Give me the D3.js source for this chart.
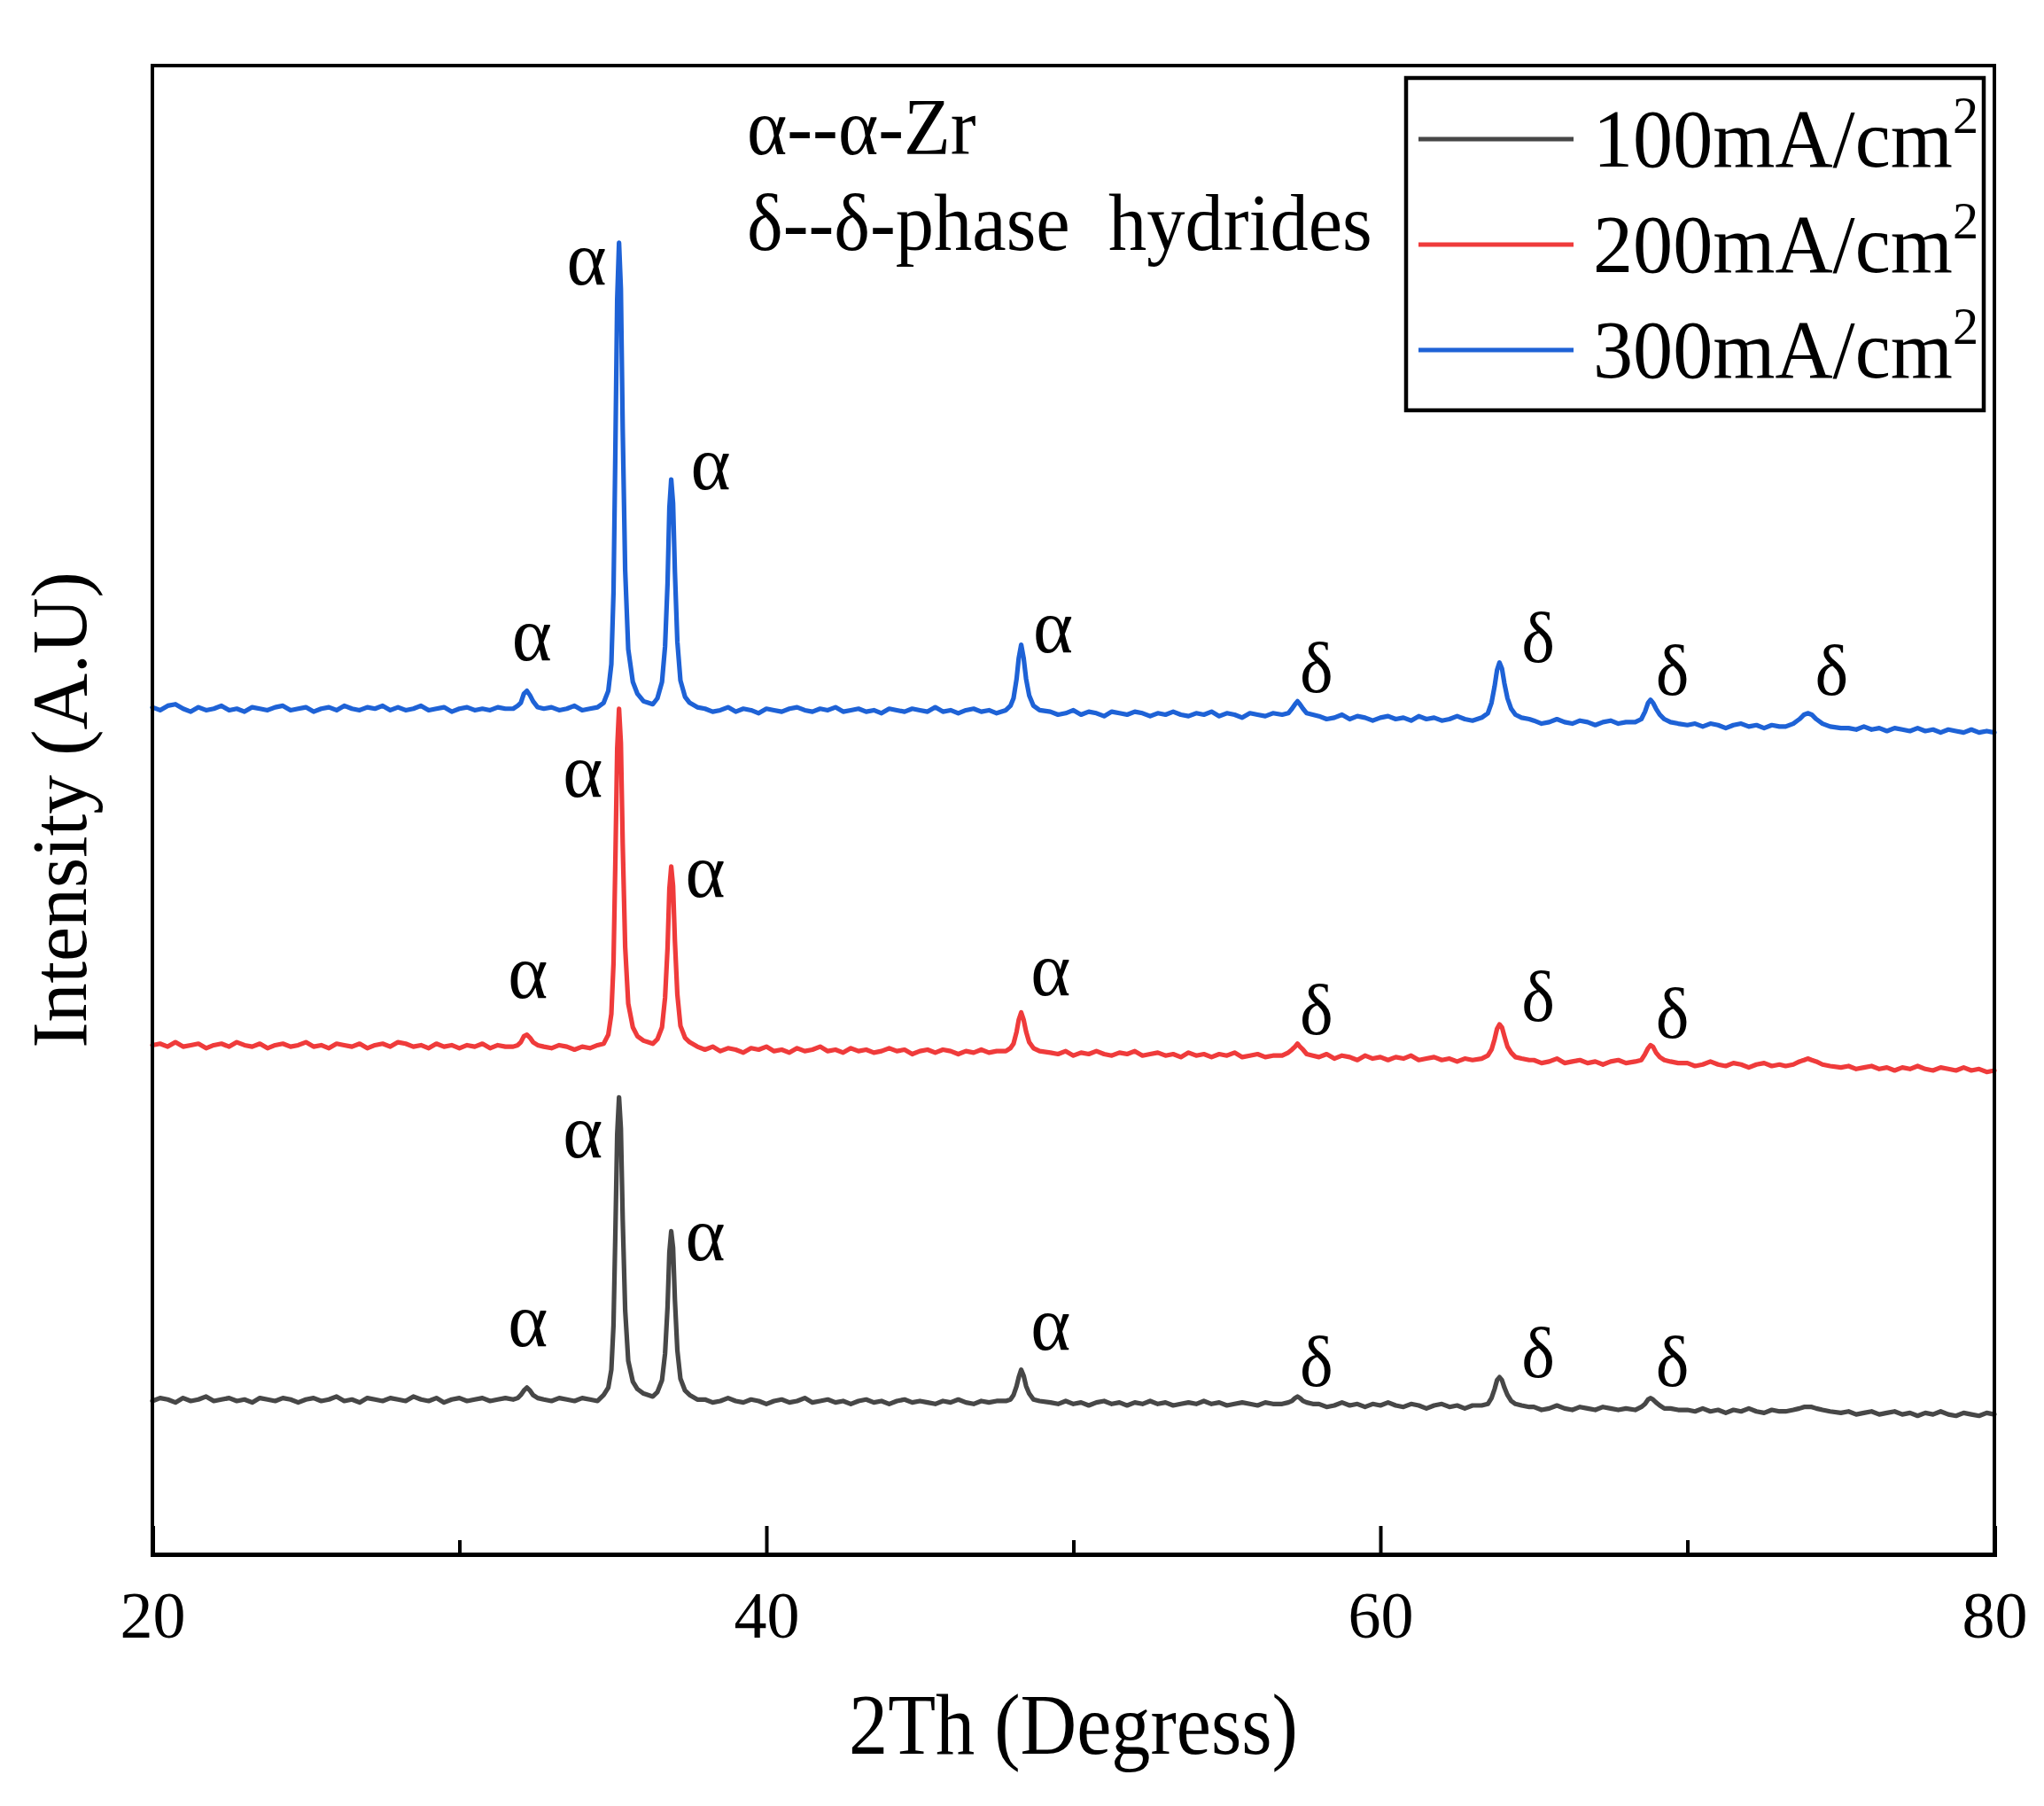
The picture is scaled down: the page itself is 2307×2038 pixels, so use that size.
<!DOCTYPE html>
<html><head><meta charset="utf-8">
<script src="https://cdn.jsdelivr.net/npm/d3@7"></script>
<style>
html,body{margin:0;padding:0;background:#fff;}
text{font-family:"Liberation Serif","Times New Roman",serif;fill:#000;}
</style>
</head><body>
<svg id="chart" width="2307" height="2038"></svg>
<script>
// ---------------- DATA ----------------
const twoTheta = [
 20,20.25,20.5,20.75,21,21.25,21.5,21.75,22,22.25,22.5,22.75,23,23.25,23.5,23.75,24,24.25,24.5,24.75,25,25.25,25.5,25.75,26,26.25,26.5,26.75,27,27.25,27.5,27.75,28,28.25,28.5,28.75,29,29.25,29.5,29.75,30,30.25,30.5,30.75,31,31.25,31.5,
 31.75,31.9,32.0,32.1,32.2,32.3,32.4,32.55,32.75,
 33,33.25,33.5,33.75,34,34.25,34.5,
 34.7,34.85,34.95,35.02,35.08,35.14,35.2,35.26,35.32,35.4,35.5,35.65,35.8,36.0,
 36.15,36.3,
 36.45,36.6,36.7,36.78,36.84,36.9,36.96,37.02,37.1,37.2,37.35,37.5,37.75,
 38,38.25,38.5,38.75,39,39.25,39.5,39.75,40,40.25,40.5,40.75,41,41.25,41.5,41.75,42,42.25,42.5,42.75,43,43.25,43.5,43.75,44,44.25,44.5,44.75,45,45.25,45.5,45.75,46,46.25,46.5,46.75,47,47.25,47.5,
 47.8,47.95,48.05,48.15,48.22,48.3,48.38,48.46,48.56,48.7,48.9,
 49.25,49.5,49.75,50,50.25,50.5,50.75,51,51.25,51.5,51.75,52,52.25,52.5,52.75,53,53.25,53.5,53.75,54,54.25,54.5,54.75,55,55.25,55.5,55.75,56,56.25,56.5,
 56.8,57.0,57.12,57.22,57.3,57.38,57.48,57.6,57.8,
 58,58.25,58.5,58.75,59,59.25,59.5,59.75,60,60.25,60.5,60.75,61,61.25,61.5,61.75,62,62.25,62.5,62.75,63,
 63.3,63.5,63.62,63.72,63.8,63.88,63.96,64.04,64.14,64.26,64.4,64.6,64.85,
 65,65.25,65.5,65.75,66,66.25,66.5,66.75,67,67.25,67.5,67.75,68,
 68.3,68.5,68.62,68.72,68.8,68.88,68.98,69.1,69.25,69.45,69.7,
 70,70.25,70.5,70.75,71,71.25,71.5,71.75,72,72.25,72.5,72.75,73,
 73.2,73.45,73.65,73.8,73.92,74.05,74.2,74.4,74.65,75.0,
 75.25,75.5,75.75,76,76.25,76.5,76.75,77,77.25,77.5,77.75,78,78.25,78.5,78.75,79,79.25,79.5,79.75,80
];

// intensities (a.u.) above each pattern's own stacking offset
const i100 = [
 -1,1,0,-2,1,-1,0,2,-1,0,1,-1,0,-2,1,0,-1,1,0,-2,0,1,-1,0,2,-1,0,-2,1,0,-1,1,0,-1,2,0,-1,1,-2,0,1,-1,0,1,-1,0,1,
 0,1,3,6,8,6,3,1,0,
 -1,1,0,-1,1,0,-1,
 3,8,20,50,111,178,203,182,121,60,26,12,7,4,
 3,2,
 5,13,31,62,99,113,102,67,33,14,6,3,0,
 0,-2,-1,1,-1,-2,0,-1,-3,-1,0,-2,-1,1,-2,-1,0,-2,-1,-3,-1,0,-2,-1,-3,-1,0,-2,-1,-2,-3,-1,-2,0,-2,-3,-1,-2,-1,
 -1,0,3,9,15,20,16,9,4,0,-1,
 -2,-3,-1,-3,-2,-4,-2,-1,-3,-2,-4,-2,-3,-1,-3,-2,-4,-3,-2,-3,-1,-3,-2,-4,-3,-2,-3,-4,-2,-3,
 -3,-2,-1,1,2,1,-1,-2,-3,
 -3,-5,-4,-2,-4,-3,-5,-3,-4,-2,-4,-5,-3,-4,-6,-4,-3,-5,-4,-6,-4,
 -4,-3,1,7,13,15,13,8,3,-1,-3,-4,-5,
 -5,-7,-6,-4,-6,-7,-5,-6,-7,-5,-6,-7,-6,
 -7,-5,-3,0,1,0,-2,-4,-6,-6,-7,
 -7,-8,-6,-8,-7,-9,-7,-8,-6,-8,-9,-7,-8,
 -8,-7,-6,-5,-5,-5,-6,-7,-8,-9,
 -8,-10,-9,-8,-10,-9,-8,-10,-9,-11,-9,-10,-8,-10,-11,-9,-10,-11,-9,-10
];
const i200 = [
 0,1,-1,2,-1,0,1,-2,0,1,-1,2,0,-1,1,-2,0,1,-1,0,2,-1,0,-2,1,0,-1,1,-2,0,1,-1,2,1,-1,0,-2,1,-1,0,-2,0,-1,1,-2,0,-1,
 -1,0,2,6,7,5,2,0,-1,
 -2,0,-1,-3,-1,-2,0,
 1,7,21,55,123,199,226,203,135,66,28,12,6,3,
 2,1,
 4,12,32,65,105,120,107,70,34,13,5,2,-1,
 -3,-1,-4,-2,-3,-5,-2,-3,-1,-4,-3,-5,-2,-4,-3,-1,-4,-3,-5,-2,-4,-3,-5,-4,-2,-4,-3,-6,-4,-3,-5,-3,-4,-6,-4,-5,-3,-5,-4,
 -4,-2,1,9,17,22,17,9,2,-2,-4,
 -5,-6,-4,-7,-5,-6,-4,-6,-7,-5,-6,-4,-7,-6,-5,-7,-6,-8,-5,-7,-6,-8,-6,-7,-5,-8,-7,-6,-8,-7,
 -7,-5,-3,-1,1,-1,-3,-6,-7,
 -8,-6,-9,-7,-8,-10,-7,-9,-8,-10,-8,-9,-7,-10,-9,-8,-10,-9,-11,-9,-10,
 -9,-7,-3,4,11,14,12,6,-1,-5,-8,-9,-10,
 -10,-12,-11,-9,-12,-11,-10,-12,-11,-13,-11,-10,-12,
 -11,-10,-6,-2,0,-1,-5,-8,-10,-11,-12,
 -12,-14,-13,-11,-13,-14,-12,-13,-15,-13,-12,-14,-13,
 -14,-13,-11,-10,-9,-10,-11,-13,-14,-15,
 -14,-16,-15,-14,-16,-15,-17,-15,-16,-14,-16,-17,-15,-16,-17,-15,-17,-16,-18,-17
];
const i300 = [
 1,-1,2,3,0,-2,1,-1,0,2,-1,0,-2,1,0,-1,1,2,-1,0,1,-2,0,1,-1,2,0,-1,1,0,2,-1,1,-1,0,2,-1,0,1,-2,0,1,-1,0,-1,1,0,
 0,2,4,10,12,9,5,1,0,
 1,-1,0,2,-1,0,1,
 4,12,30,78,172,275,313,282,188,93,40,18,10,5,
 4,3,
 7,18,42,84,135,154,138,92,45,19,8,4,1,
 0,-2,-1,1,-2,0,-1,-3,0,-1,-2,0,1,-1,-2,0,-1,1,-2,-1,0,-2,-1,-3,0,-1,-2,0,-1,-2,1,-2,-1,-3,-1,0,-2,-1,-3,
 -1,2,7,20,34,43,34,20,9,2,-1,
 -2,-4,-3,-1,-4,-2,-3,-5,-2,-3,-4,-2,-3,-5,-3,-4,-2,-4,-5,-3,-4,-2,-5,-3,-4,-6,-3,-4,-5,-3,
 -4,-3,0,3,5,3,0,-3,-4,
 -5,-7,-6,-4,-7,-5,-6,-8,-6,-5,-7,-6,-8,-5,-7,-6,-8,-7,-5,-7,-8,
 -6,-3,4,15,26,31,27,17,7,0,-4,-6,-7,
 -8,-10,-9,-7,-9,-10,-8,-9,-11,-9,-8,-10,-9,
 -9,-7,-2,4,6,4,0,-4,-7,-9,-10,
 -11,-10,-12,-10,-11,-13,-11,-10,-12,-11,-13,-11,-12,
 -12,-10,-7,-4,-3,-4,-7,-10,-12,-13,
 -13,-14,-12,-14,-13,-15,-13,-14,-15,-13,-15,-14,-16,-14,-15,-16,-14,-16,-15,-16
];

const seriesNames   = ["100mA/cm", "200mA/cm", "300mA/cm"];   // each followed by superscript 2
const seriesColors  = ["#474747", "#ef3b3b", "#1e62d6"];
const seriesOffsets = [104, 342, 568];                        // stacking offsets (a.u.)

// peak labels: [phase symbol, 2θ, intensity position]
const labels100 = [["α",32.23,151],["α",34.02,278],["α",38.01,209],["α",49.26,149],["δ",57.92,129],["δ",65.14,135],["δ",69.51,129]];
const labels200 = [["α",32.23,385],["α",34.02,520],["α",38.01,453],["α",49.26,387],["δ",57.92,365],["δ",65.14,374],["δ",69.51,363]];
const labels300 = [["α",32.36,612],["α",34.14,864],["α",38.18,727],["α",49.34,617],["δ",57.92,595],["δ",65.14,615],["δ",69.51,593],["δ",74.7,593]];

const xMajorTicks = [20, 40, 60, 80];
const xMinorTicks = [30, 50, 70];
const phaseNotes  = ["α--α-Zr", "δ--δ-phase  hydrides"];
const xTitle = "2Th (Degress)";
const yTitle = "Intensity (A.U)";

// ---------------- CHART ----------------
const W = 2307, H = 2038;
const M = {left:172, right:56, top:74, bottom:284};
const svg = d3.select("#chart");
const x = d3.scaleLinear().domain([20, 80]).range([M.left, W - M.right]);
const y = d3.scaleLinear().domain([0, 1000]).range([H - M.bottom, M.top]);

const seriesData = [i100, i200, i300];
seriesData.forEach((arr, k) => {
  if (arr.length !== twoTheta.length) console.warn("length mismatch", k, arr.length, twoTheta.length);
});

const line = off => d3.line()
  .defined((d, i) => i < twoTheta.length)
  .x((d, i) => x(twoTheta[i]))
  .y(d => y(off + d));

const plot = svg.append("g");
seriesData.forEach((arr, k) => {
  plot.append("path")
    .attr("d", line(seriesOffsets[k])(arr))
    .attr("fill", "none")
    .attr("stroke", seriesColors[k])
    .attr("stroke-width", 5.2)
    .attr("stroke-linejoin", "round")
    .attr("stroke-linecap", "round");
});

// helper: text drawn slightly condensed like the original figure
function label(g, px, py, str, size, sx, anchor) {
  return g.append("text")
    .attr("transform", `translate(${px},${py}) scale(${sx},1)`)
    .attr("font-size", size)
    .attr("text-anchor", anchor || "start")
    .text(str);
}

// peak labels
const lab = svg.append("g");
[labels100, labels200, labels300].forEach(set => {
  set.forEach(([s, t, v]) => {
    const size = s === "α" ? 86 : 80;
    const dy = s === "α" ? 0.22 * size : 0.33 * size;
    label(lab, x(t), y(v) + dy, s, size, 1, "middle");
  });
});

// frame
svg.append("rect")
  .attr("x", M.left).attr("y", M.top)
  .attr("width", W - M.left - M.right).attr("height", H - M.top - M.bottom)
  .attr("fill", "none").attr("stroke", "#000").attr("stroke-width", 4);

// x axis (ticks pointing inward)
const axMajor = svg.append("g").attr("transform", `translate(0,${H - M.bottom})`)
  .call(d3.axisBottom(x).tickValues(xMajorTicks).tickSize(-32).tickPadding(41).tickFormat(d3.format("d")));
const axMinor = svg.append("g").attr("transform", `translate(0,${H - M.bottom})`)
  .call(d3.axisBottom(x).tickValues(xMinorTicks).tickSize(-16).tickFormat(""));
[axMajor, axMinor].forEach(g => {
  g.select(".domain").attr("stroke", "#000").attr("stroke-width", 5);
  g.selectAll(".tick line").attr("stroke", "#000").attr("stroke-width", 4);
  g.selectAll(".tick text").attr("font-size", 74).attr("font-family", '"Liberation Serif","Times New Roman",serif').attr("fill", "#000");
});

// axis titles
label(svg, (M.left + W - M.right) / 2, 1979, xTitle, 98, 0.9, "middle");
svg.append("text").attr("transform", `translate(97,${(M.top + H - M.bottom) / 2}) rotate(-90)`)
  .attr("text-anchor", "middle").attr("font-size", 88).text(yTitle);

// phase notes
const notes = svg.append("g");
label(notes, 843, 174, phaseNotes[0], 92, 0.94).attr("xml:space", "preserve").style("white-space", "pre");
label(notes, 843, 282, phaseNotes[1], 92, 0.94).attr("xml:space", "preserve").style("white-space", "pre");

// legend
const lg = svg.append("g");
lg.append("rect").attr("x", 1587).attr("y", 88).attr("width", 652).attr("height", 375)
  .attr("fill", "#fff").attr("stroke", "#000").attr("stroke-width", 4.5);
seriesNames.forEach((name, k) => {
  const cy = 157 + k * 119;
  lg.append("line").attr("x1", 1601).attr("x2", 1776).attr("y1", cy).attr("y2", cy)
    .attr("stroke", seriesColors[k]).attr("stroke-width", 5);
  const t = label(lg, 1798, cy + 31, "", 93, 0.97);
  t.append("tspan").text(name);
  t.append("tspan").attr("font-size", 60).attr("dy", -38).text("2");
});
</script>
</body></html>
